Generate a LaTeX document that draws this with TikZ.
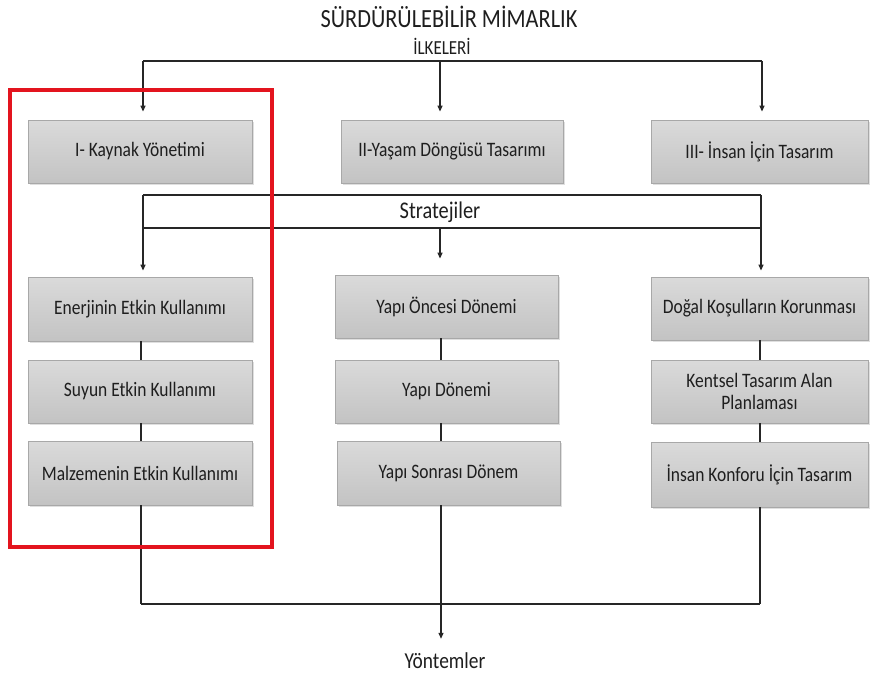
\documentclass[tikz,border=0pt]{standalone}
\usepackage{fontspec}
\setmainfont{Carlito}
\usetikzlibrary{arrows.meta,shadows,calc}
\definecolor{txt}{HTML}{1E1E1E}
\definecolor{boxtop}{HTML}{DADADA}
\definecolor{boxbot}{HTML}{C3C3C3}
\definecolor{boxline}{HTML}{A8A8A8}
\definecolor{redframe}{HTML}{E3141E}
\newcommand{\tall}[1]{\scalebox{0.97}[1.14]{#1}}
\tikzset{
  gbox/.style={draw=boxline, line width=0.8pt, top color=boxtop, bottom color=boxbot,
    minimum height=63pt, inner sep=2pt, align=center, text=txt,
    font=\fontsize{18}{21}\selectfont,
    drop shadow={shadow xshift=1.5pt, shadow yshift=-1.5pt, opacity=0.25}},
  conn/.style={draw=black!85, line width=1.2pt},
  arr/.style={conn, -{Triangle[width=5pt,length=6pt]}},
  label/.style={text=txt, inner sep=0pt}
}
\begin{document}
\begin{tikzpicture}[x=1pt,y=-1pt]
\useasboundingbox (0,0) rectangle (870,678);
\fill[white] (0,0) rectangle (870,678);

% titles
\node[label, font=\fontsize{23}{26}\selectfont] (title) at (449,17) {\tall{SÜRDÜRÜLEBİLİR MİMARLIK}};
\node[label, font=\fontsize{17.5}{20}\selectfont] (ilke) at (442,46) {\tall{İLKELERİ}};
\node[label, font=\fontsize{21}{24}\selectfont] (strat) at (440,212) {\tall{Stratejiler}};
\node[label, font=\fontsize{20}{23}\selectfont] (yont) at (445,661) {\tall{Yöntemler}};

% row 1
\node[gbox, minimum width=224pt] (b1) at (140,151.5) {\tall{I- Kaynak Yönetimi}};
\node[gbox, minimum width=222pt] (b2) at (452,151.5) {\tall{II-Yaşam Döngüsü Tasarımı}};
\node[gbox, minimum width=217pt] (b3) at (759.5,151.5) {\tall{III- İnsan İçin Tasarım}};

% left column
\node[gbox, minimum width=224pt, minimum height=64pt] (l1) at (140,309) {\tall{Enerjinin Etkin Kullanımı}};
\node[gbox, minimum width=224pt] (l2) at (140,391.5) {\tall{Suyun Etkin Kullanımı}};
\node[gbox, minimum width=224pt, minimum height=64pt] (l3) at (140,473) {\tall{Malzemenin Etkin Kullanımı}};

% middle column
\node[gbox, minimum width=223pt] (m1) at (446.5,306.5) {\tall{Yapı Öncesi Dönemi}};
\node[gbox, minimum width=223pt] (m2) at (446.5,391.5) {\tall{Yapı Dönemi}};
\node[gbox, minimum width=223pt, minimum height=64pt] (m3) at (448.5,473) {\tall{Yapı Sonrası Dönem}};

% right column
\node[gbox, minimum width=217pt] (r1) at (759.5,308.5) {\tall{Doğal Koşulların Korunması}};
\node[gbox, minimum width=217pt] (r2) at (759.5,391.5) {\tall{Kentsel Tasarım Alan}\\[1pt]\tall{Planlaması}};
\node[gbox, minimum width=217pt, minimum height=65pt] (r3) at (759.5,474.5) {\tall{İnsan Konforu İçin Tasarım}};

% coordinates
\coordinate (tL) at (143,61);
\coordinate (tM) at (440,61);
\coordinate (tR) at (762,61);
\coordinate (sL) at (143,195);
\coordinate (sR) at (761,195);
\coordinate (uL) at (143,228);
\coordinate (uM) at (440,228);
\coordinate (uR) at (761,228);
\coordinate (xM) at (441,0);
\coordinate (xL) at (141,0);
\coordinate (xR) at (760,0);
\coordinate (bL) at (141,604);
\coordinate (bM) at (441,604);
\coordinate (bR) at (760,604);

% top bracket
\draw[conn] (tL) -- (tR);
\draw[arr, shorten >=8pt] (tL) -- (b1.north -| tL);
\draw[arr, shorten >=8pt] (tM) -- (b2.north -| tM);
\draw[arr, shorten >=8pt] (tR) -- (b3.north -| tR);

% strategies bracket
\draw[conn] (sL) -- (sR);
\draw[conn] (uL) -- (uR);
\draw[conn] (sL) -- (uL);
\draw[arr, shorten >=6pt] (uL) -- (l1.north -| uL);
\draw[arr, shorten >=16pt] (uM) -- (m1.north -| uM);
\draw[arr, shorten >=6pt] (sR) -- (r1.north -| sR);

% column links
\draw[conn] (l1.south -| xL) -- (l2.north -| xL);
\draw[conn] (l2.south -| xL) -- (l3.north -| xL);
\draw[conn] (m1.south -| xM) -- (m2.north -| xM);
\draw[conn] (m2.south -| xM) -- (m3.north -| xM);
\draw[conn] (r1.south -| xR) -- (r2.north -| xR);
\draw[conn] (r2.south -| xR) -- (r3.north -| xR);

% bottom
\draw[conn] (l3.south -| xL) -- (bL);
\draw[conn] (r3.south -| xR) -- (bR);
\draw[conn, line width=2pt] (bL) -- (bR);
\draw[arr, shorten >=14pt] (m3.south -| xM) -- (yont.north -| xM);

% red frame
\draw[redframe, line width=4pt] (10,90) rectangle (272,547);
\end{tikzpicture}
\end{document}
